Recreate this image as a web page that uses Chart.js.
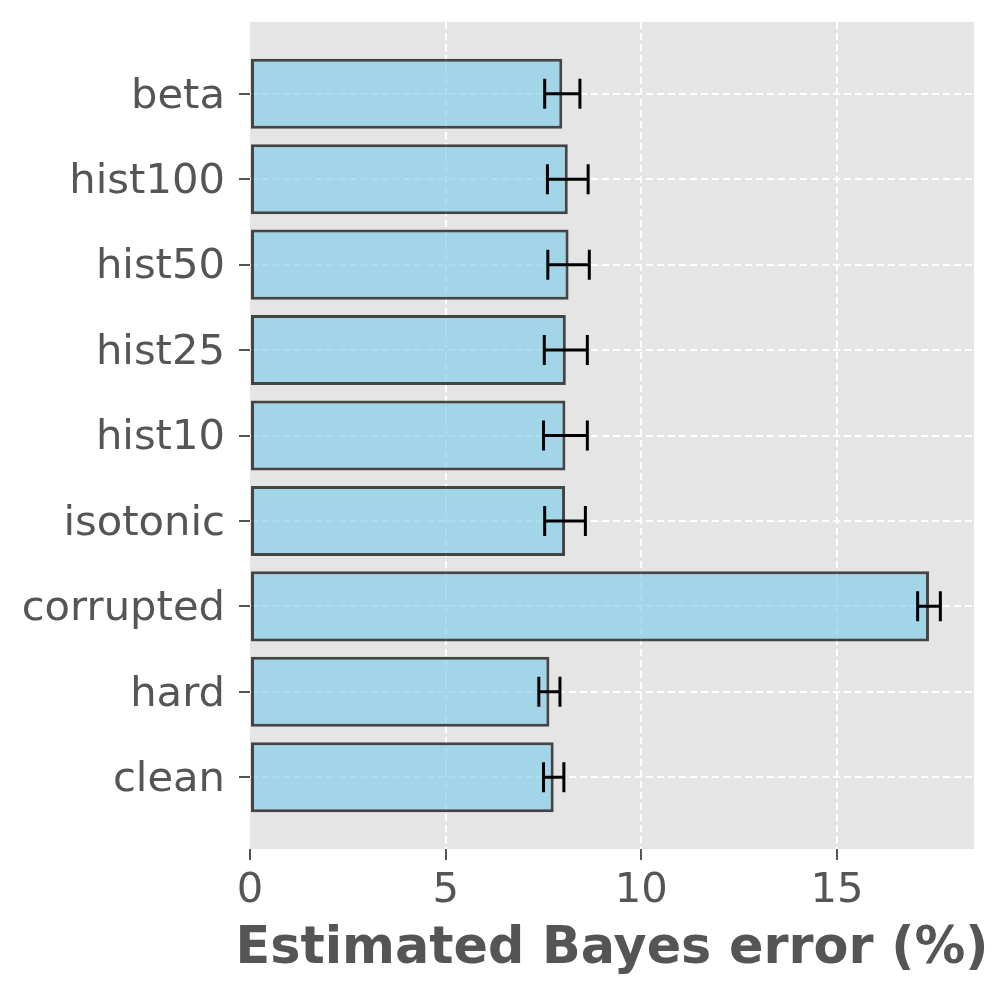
<!DOCTYPE html>
<html>
<head>
<meta charset="utf-8">
<script src="https://cdn.jsdelivr.net/npm/chart.js@4.4.0/dist/chart.umd.min.js"></script>
<style>
  html, body { margin: 0; padding: 0; background: #fff; }
  #wrap { width: 996px; height: 997px; }
</style>
</head>
<body>
<div id="wrap"><canvas id="chart" width="996" height="997"></canvas></div>
<script>
// categories bottom -> top (matplotlib barh order)
const methods   = ['clean', 'hard', 'corrupted', 'isotonic', 'hist10', 'hist25', 'hist50', 'hist100', 'beta'];
const errorMean = [7.76, 7.65, 17.35, 8.05, 8.06, 8.07, 8.14, 8.12, 7.98];
const errorStd  = [0.26, 0.27, 0.29, 0.52, 0.56, 0.55, 0.53, 0.52, 0.45];
const xTicks    = [0, 5, 10, 15];
const xLabel    = 'Estimated Bayes error (%)';

const FONT = "'DejaVu Sans', sans-serif";
const TEXT = '#555555';

// grey panel behind the plot (ggplot style)
const panelBg = {
  id: 'panelBg',
  beforeDraw(chart) {
    const { ctx, chartArea: a } = chart;
    ctx.save();
    ctx.fillStyle = '#E5E5E5';
    ctx.fillRect(a.left, a.top, a.right - a.left, a.bottom - a.top);
    ctx.restore();
  }
};

// horizontal error bars with caps
const errorBars = {
  id: 'errorBars',
  afterDatasetsDraw(chart) {
    const { ctx, scales: { x, y } } = chart;
    ctx.save();
    ctx.strokeStyle = '#000';
    ctx.lineWidth = 3;
    methods.forEach((m, i) => {
      const py = y.getPixelForValue(i);
      const x0 = x.getPixelForValue(errorMean[i] - errorStd[i]);
      const x1 = x.getPixelForValue(errorMean[i] + errorStd[i]);
      ctx.beginPath();
      ctx.moveTo(x0, py); ctx.lineTo(x1, py);
      ctx.moveTo(x0, py - 15); ctx.lineTo(x0, py + 15);
      ctx.moveTo(x1, py - 15); ctx.lineTo(x1, py + 15);
      ctx.stroke();
    });
    ctx.restore();
  }
};

// x axis label, drawn without Chart.js squeezing it to the scale width
const xTitle = {
  id: 'xTitle',
  afterDraw(chart) {
    const { ctx, chartArea: a } = chart;
    ctx.save();
    ctx.fillStyle = TEXT;
    ctx.font = `bold 50.8px ${FONT}`;
    ctx.textAlign = 'center';
    ctx.textBaseline = 'alphabetic';
    ctx.fillText(xLabel, (a.left + a.right) / 2, 963);
    ctx.restore();
  }
};

const gridColor = c => (c.tick && c.tick.value === 0 && c.scale.axis === 'x') ? 'rgba(0,0,0,0)' : '#ffffff';

const ctx = document.getElementById('chart').getContext('2d');
new Chart(ctx, {
  type: 'bar',
  data: {
    datasets: [{
      data: methods.map((m, i) => ({ x: errorMean[i], y: i })),
      backgroundColor: 'rgba(135,206,235,0.7)',
      borderColor: 'rgba(0,0,0,0.7)',
      borderWidth: 3,
      borderSkipped: false,
      categoryPercentage: 0.82,
      barPercentage: 1
    }]
  },
  options: {
    indexAxis: 'y',
    responsive: false,
    animation: false,
    layout: { padding: { top: 22, right: 22, left: 0, bottom: 0 } },
    plugins: { legend: { display: false }, tooltip: { enabled: false } },
    scales: {
      x: {
        type: 'linear',
        min: 0,
        max: 18.5,
        afterBuildTicks: s => { s.ticks = xTicks.map(v => ({ value: v })); },
        afterFit: s => { s.height = 148; },
        border: { display: false, dash: [7, 4] },
        grid: {
          color: gridColor,
          lineWidth: 2,
          tickColor: TEXT,
          tickLength: 11,
          tickWidth: 2
        },
        ticks: {
          color: TEXT,
          padding: 6,
          font: { family: FONT, size: 41.7 }
        }
      },
      y: {
        type: 'linear',
        offset: false,
        min: -0.84,
        max: 8.84,
        afterBuildTicks: s => { s.ticks = methods.map((m, i) => ({ value: i })); },
        afterFit: s => { s.width = 250; s.paddingTop = 0; s.paddingBottom = 0; },
        border: { display: false, dash: [7, 4] },
        grid: {
          offset: false,
          color: gridColor,
          lineWidth: 2,
          tickColor: TEXT,
          tickLength: 11,
          tickWidth: 2
        },
        ticks: {
          color: TEXT,
          padding: 14,
          labelOffset: 3,
          font: { family: FONT, size: 41.7 },
          callback: v => methods[v] ?? ''
        }
      }
    }
  },
  plugins: [panelBg, errorBars, xTitle]
});
</script>
</body>
</html>
